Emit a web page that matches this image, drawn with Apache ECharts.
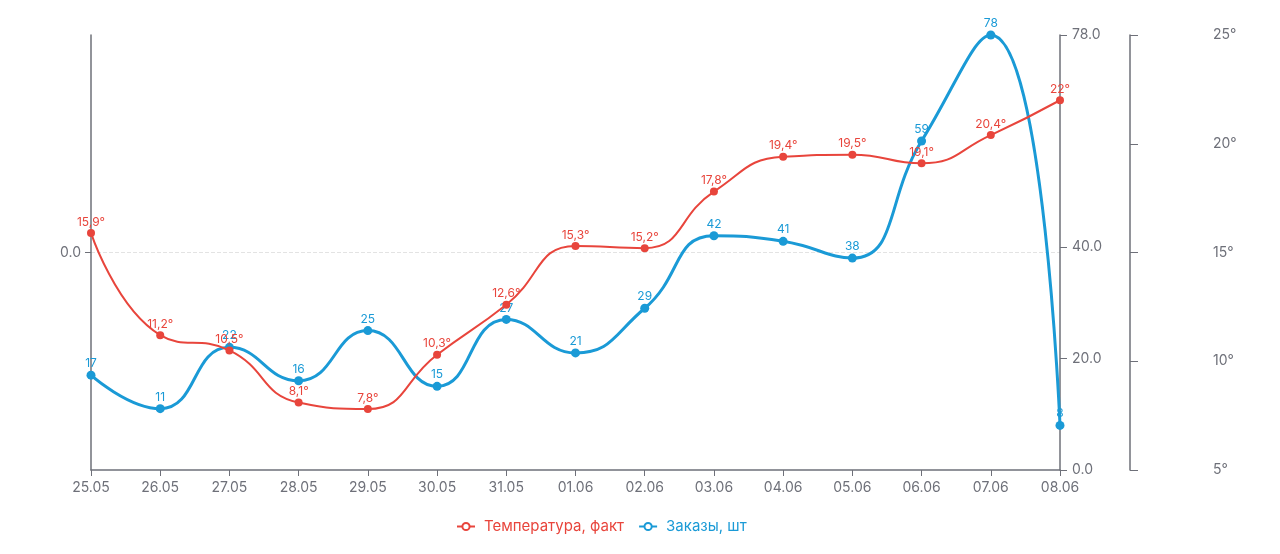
<!DOCTYPE html>
<html>
<head>
<meta charset="utf-8">
<script src="https://cdn.jsdelivr.net/npm/echarts@6/dist/echarts.min.js"></script>
<style>html,body{margin:0;padding:0;background:#fff}#c{width:1280px;height:554px}</style>
</head>
<body>
<div id="c"></div>
<script>
const categories = ['25.05','26.05','27.05','28.05','29.05','30.05','31.05','01.06','02.06','03.06','04.06','05.06','06.06','07.06','08.06'];
const temperature = [15.9, 11.2, 10.5, 8.1, 7.8, 10.3, 12.6, 15.3, 15.2, 17.8, 19.4, 19.5, 19.1, 20.4, 22];
const orders = [17, 11, 22, 16, 25, 15, 27, 21, 29, 42, 41, 38, 59, 78, 8];
const ordersTicks = [0, 20, 40, 78];

const RED = '#e8453c';
const BLUE = '#1a9ad6';
const AXIS = '#6e7079';
const FONT = 'Inter, "Noto Sans", sans-serif';

const chart = echarts.init(document.getElementById('c'));
chart.setOption({
  animation: false,
  textStyle: { fontFamily: FONT },
  grid: { left: 91, right: 220, top: 35, bottom: 84 },
  legend: {
    top: 514,
    left: 451,
    itemGap: 14,
    itemWidth: 18,
    itemHeight: 9,
    textStyle: { fontSize: 15, fontFamily: FONT, padding: [0, 0, 0, 4] },
    data: [
      { name: 'Температура, факт', textStyle: { color: RED },
        itemStyle: { color: '#fff', borderColor: RED, borderWidth: 2 } },
      { name: 'Заказы, шт', textStyle: { color: BLUE },
        itemStyle: { color: '#fff', borderColor: BLUE, borderWidth: 2 } }
    ]
  },
  xAxis: {
    type: 'category',
    data: categories,
    boundaryGap: false,
    axisLine: { onZero: false, lineStyle: { color: AXIS, width: 1.5 } },
    axisTick: { alignWithLabel: true, length: 6, lineStyle: { color: AXIS } },
    axisLabel: { color: AXIS, fontSize: 14, margin: 11, fontFamily: FONT }
  },
  yAxis: [
    {
      type: 'value', position: 'left', min: -1, max: 1, interval: 1,
      axisLine: { show: true, lineStyle: { color: AXIS, width: 1.5 } },
      axisTick: { show: true, customValues: [0], length: 6, lineStyle: { color: AXIS } },
      axisLabel: { customValues: [0], color: AXIS, fontSize: 14, margin: 10, fontFamily: FONT,
        formatter: v => v.toFixed(1) },
      splitLine: { show: true, lineStyle: { type: 'dashed', color: '#e3e3e3' } }
    },
    {
      type: 'value', position: 'right', min: 0, max: 78,
      axisLine: { show: true, lineStyle: { color: AXIS, width: 1.5 } },
      axisTick: { show: true, customValues: ordersTicks, length: 7, lineStyle: { color: AXIS } },
      axisLabel: { customValues: ordersTicks, color: AXIS, fontSize: 14, margin: 12, fontFamily: FONT,
        formatter: v => v.toFixed(1) },
      splitLine: { show: false }
    },
    {
      type: 'value', position: 'right', offset: 70, min: 5, max: 25, interval: 5,
      axisLine: { show: true, lineStyle: { color: AXIS, width: 1.5 } },
      axisTick: { show: true, length: 8, lineStyle: { color: AXIS } },
      axisLabel: { color: AXIS, fontSize: 14, margin: 83, fontFamily: FONT,
        formatter: v => v + '°' },
      splitLine: { show: false }
    }
  ],
  series: [
    {
      name: 'Температура, факт',
      type: 'line',
      yAxisIndex: 2,
      data: temperature,
      smooth: true,
      symbol: 'circle',
      symbolSize: 8,
      itemStyle: { color: RED },
      lineStyle: { color: RED, width: 2 },
      label: { show: true, position: 'top', color: RED, fontSize: 12, distance: 1,
        formatter: p => String(p.value).replace('.', ',') + '°' },
      z: 3
    },
    {
      name: 'Заказы, шт',
      type: 'line',
      yAxisIndex: 1,
      data: orders,
      smooth: true,
      symbol: 'circle',
      symbolSize: 9,
      itemStyle: { color: BLUE },
      lineStyle: { color: BLUE, width: 3 },
      label: { show: true, position: 'top', color: BLUE, fontSize: 12, distance: 1 },
      z: 2
    }
  ]
});
</script>
</body>
</html>
